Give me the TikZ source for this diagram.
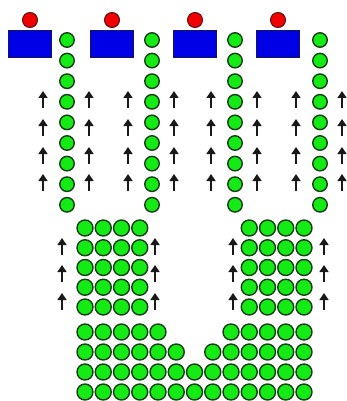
\documentclass[tikz,border=0pt]{standalone}
\usetikzlibrary{arrows.meta}
\definecolor{ballgreen}{RGB}{20,235,20}
\definecolor{balledge}{RGB}{25,60,25}
\definecolor{boxblue}{RGB}{0,0,230}
\definecolor{boxedge}{RGB}{20,20,90}
\definecolor{redball}{RGB}{240,0,0}
\definecolor{rededge}{RGB}{90,20,20}
\begin{document}
\begin{tikzpicture}[x=1pt,y=-1pt,
  ball/.style={circle,draw=balledge,fill=ballgreen,line width=1.4pt,inner sep=0pt,minimum size=14.5pt},
  bigball/.style={ball,minimum size=16pt},
  redb/.style={circle,draw=rededge,fill=redball,line width=1pt,inner sep=0pt,minimum size=15pt},
  blbox/.style={rectangle,draw=boxedge,fill=boxblue,line width=1pt,inner sep=0pt,minimum width=43pt,minimum height=27pt},
  uparrow/.style={line width=1.4pt,draw=black!90,-{Triangle[width=9pt,length=7pt]}}]
\useasboundingbox (0,0) rectangle (347,401);
% top units
\foreach \i/\bx/\gx in {1/30/67,2/112/152,3/195/235,4/278/320}{
  \node[redb] (r\i) at (\bx,20) {};
  \node[blbox] (b\i) at (\bx,44.5) {};
  \foreach \k in {0,...,8}{
    \node[ball] (c\i-\k) at (\gx,40+20.6*\k) {};
  }
  \foreach \t in {91,119,147,174}{
    \coordinate (al\i-\t) at (\gx-24,\t+17);
    \coordinate (alt\i-\t) at (\gx-24,\t);
    \coordinate (ar\i-\t) at (\gx+22,\t+17);
    \coordinate (art\i-\t) at (\gx+22,\t);
    \draw[uparrow] (al\i-\t) -- (alt\i-\t);
    \draw[uparrow] (ar\i-\t) -- (art\i-\t);
  }
}
% bottom block: upper parts
\foreach \j in {0,...,4}{
  \foreach \i in {0,...,3}{
    \node[bigball] (L\i-\j) at (85+18.25*\i,228+19.75*\j) {};
  }
  \foreach \i in {9,...,12}{
    \node[bigball] (R\i-\j) at (85+18.25*\i,228+19.75*\j) {};
  }
}
% bottom arrows
\foreach \ax in {62,155,233,324}{
  \foreach \t in {238,265,293}{
    \coordinate (ba\ax-\t) at (\ax,\t+17);
    \coordinate (bt\ax-\t) at (\ax,\t);
    \draw[uparrow] (ba\ax-\t) -- (bt\ax-\t);
  }
}
% bottom block: lower rows
\foreach \i in {0,...,4,8,9,...,12}{
  \node[bigball] (W\i-0) at (85+18.25*\i,332) {};
}
\foreach \i in {0,...,5,7,8,...,12}{
  \node[bigball] (W\i-1) at (85+18.25*\i,352) {};
}
\foreach \i in {0,...,12}{
  \node[bigball] (W\i-2) at (85+18.25*\i,372) {};
  \node[bigball] (W\i-3) at (85+18.25*\i,392) {};
}
\end{tikzpicture}
\end{document}
